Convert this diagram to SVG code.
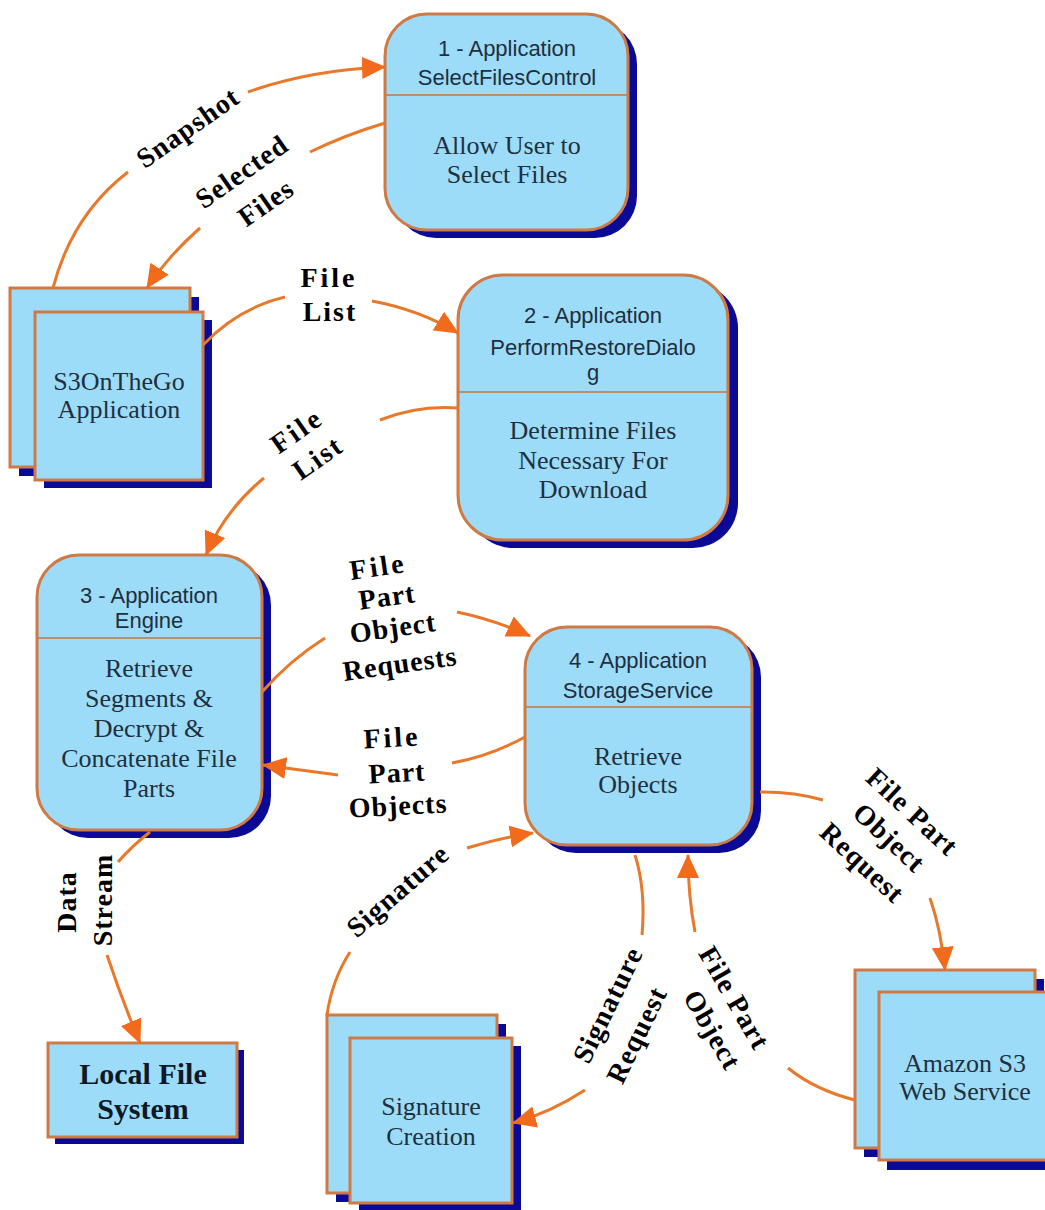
<svg xmlns="http://www.w3.org/2000/svg" width="1045" height="1210" viewBox="0 0 1045 1210">
  <style>
    .shadow { fill: #0A0A96; }
    .box { fill: #9DDCF8; stroke: #CF7A44; stroke-width: 3; }
    .divider { stroke: #C8743F; stroke-width: 1.5; }
    .head { font-family: "Liberation Sans", Arial, sans-serif; font-size: 22px; fill: #1E2F40; text-anchor: middle; }
    .body { font-family: "Liberation Serif", "Times New Roman", serif; font-size: 26px; fill: #1E3040; text-anchor: middle; }
    .store { font-family: "Liberation Serif", "Times New Roman", serif; font-size: 30px; font-weight: bold; fill: #101828; text-anchor: middle; }
    .flow { fill: none; stroke: #E8782A; stroke-width: 3; }
    .lbl { font-family: "Liberation Serif", "Times New Roman", serif; font-size: 28px; font-weight: bold; fill: #000; text-anchor: middle; letter-spacing: 1px; }
  </style>
  <defs>
    <marker id="arrow" markerUnits="userSpaceOnUse" markerWidth="24" markerHeight="22" viewBox="0 0 24 22" refX="23" refY="11" orient="auto">
      <path d="M0,0 L24,11 L0,22 Z" fill="#F26B1D"/>
    </marker>
  </defs>
  <rect width="1045" height="1210" fill="#FFFFFF"/>

  <!-- Process 1 -->
  <g id="node-select-files">
    <rect class="shadow" x="394" y="22" width="243" height="216" rx="42"/>
    <rect class="box" x="385" y="14" width="243" height="216" rx="42"/>
    <line class="divider" x1="386" y1="95" x2="627" y2="95"/>
    <text class="head" x="507" y="56">1 - Application</text>
    <text class="head" x="507" y="85">SelectFilesControl</text>
    <text class="body" x="507" y="154">Allow User to</text>
    <text class="body" x="507" y="183">Select Files</text>
  </g>

  <!-- Process 2 -->
  <g id="node-restore-dialog">
    <rect class="shadow" x="468" y="283" width="270" height="265" rx="45"/>
    <rect class="box" x="458" y="275" width="270" height="265" rx="45"/>
    <line class="divider" x1="459" y1="392" x2="727" y2="392"/>
    <text class="head" x="593" y="323">2 - Application</text>
    <text class="head" x="593" y="355">PerformRestoreDialo</text>
    <text class="head" x="593" y="380">g</text>
    <text class="body" x="593" y="439">Determine Files</text>
    <text class="body" x="593" y="469">Necessary For</text>
    <text class="body" x="593" y="498">Download</text>
  </g>

  <!-- Process 3 -->
  <g id="node-engine">
    <rect class="shadow" x="46" y="563" width="225" height="275" rx="42"/>
    <rect class="box" x="37" y="555" width="225" height="275" rx="42"/>
    <line class="divider" x1="38" y1="638" x2="261" y2="638"/>
    <text class="head" x="149" y="603">3 - Application</text>
    <text class="head" x="149" y="628">Engine</text>
    <text class="body" x="149" y="677">Retrieve</text>
    <text class="body" x="149" y="707">Segments &amp;</text>
    <text class="body" x="149" y="737">Decrypt &amp;</text>
    <text class="body" x="149" y="767">Concatenate File</text>
    <text class="body" x="149" y="797">Parts</text>
  </g>

  <!-- Process 4 -->
  <g id="node-storage-service">
    <rect class="shadow" x="534" y="635" width="227" height="218" rx="42"/>
    <rect class="box" x="525" y="627" width="227" height="218" rx="42"/>
    <line class="divider" x1="526" y1="707" x2="751" y2="707"/>
    <text class="head" x="638" y="668">4 - Application</text>
    <text class="head" x="638" y="698">StorageService</text>
    <text class="body" x="638" y="765">Retrieve</text>
    <text class="body" x="638" y="793">Objects</text>
  </g>

  <!-- External entity: application -->
  <g id="node-s3onthego">
    <rect class="shadow" x="19" y="297" width="180" height="179"/>
    <rect class="box" x="10" y="288" width="180" height="179"/>
    <rect class="shadow" x="44" y="320" width="168" height="168"/>
    <rect class="box" x="35" y="312" width="168" height="168"/>
    <text class="body" x="119" y="390">S3OnTheGo</text>
    <text class="body" x="119" y="418">Application</text>
  </g>

  <!-- Data store -->
  <g id="node-local-file-system">
    <rect class="shadow" x="55" y="1050" width="189" height="94"/>
    <rect class="box" x="48" y="1043" width="189" height="94"/>
    <text class="store" x="143" y="1084">Local File</text>
    <text class="store" x="143" y="1119">System</text>
  </g>

  <!-- External entity: signature creation -->
  <g id="node-signature-creation">
    <rect class="shadow" x="336" y="1024" width="170" height="178"/>
    <rect class="box" x="327" y="1015" width="170" height="178"/>
    <rect class="shadow" x="359" y="1046" width="162" height="164"/>
    <rect class="box" x="350" y="1038" width="162" height="165"/>
    <text class="body" x="431" y="1115">Signature</text>
    <text class="body" x="431" y="1145">Creation</text>
  </g>

  <!-- External entity: Amazon S3 -->
  <g id="node-amazon-s3">
    <rect class="shadow" x="864" y="979" width="180" height="178"/>
    <rect class="box" x="855" y="970" width="180" height="178"/>
    <rect class="shadow" x="887" y="1001" width="170" height="169"/>
    <rect class="box" x="879" y="992" width="172" height="168"/>
    <text class="body" x="965" y="1072">Amazon S3</text>
    <text class="body" x="965" y="1100">Web Service</text>
  </g>

  <!-- Data flows -->
  <g id="connectors">
    <!-- Snapshot -->
    <path class="flow" d="M53,288 Q72,215 128,172"/>
    <path class="flow" d="M248,92 Q310,70 385,67" marker-end="url(#arrow)"/>
    <!-- Selected Files -->
    <path class="flow" d="M385,123 Q345,135 310,152"/>
    <path class="flow" d="M200,228 Q168,256 147,288" marker-end="url(#arrow)"/>
    <!-- File List (to dialog) -->
    <path class="flow" d="M203,345 Q238,308 285,297"/>
    <path class="flow" d="M372,301 Q420,310 458,333" marker-end="url(#arrow)"/>
    <!-- File List (to engine) -->
    <path class="flow" d="M458,408 Q418,405 380,420"/>
    <path class="flow" d="M264,478 Q225,510 206,555" marker-end="url(#arrow)"/>
    <!-- File Part Object Requests -->
    <path class="flow" d="M262,692 Q290,660 325,638"/>
    <path class="flow" d="M457,612 Q495,620 530,636" marker-end="url(#arrow)"/>
    <!-- File Part Objects -->
    <path class="flow" d="M525,737 Q490,756 452,763"/>
    <path class="flow" d="M338,775 Q300,770 263,765" marker-end="url(#arrow)"/>
    <!-- Data Stream -->
    <path class="flow" d="M150,832 Q133,845 118,862"/>
    <path class="flow" d="M107,955 Q122,1000 140,1043" marker-end="url(#arrow)"/>
    <!-- Signature -->
    <path class="flow" d="M327,1015 Q332,980 350,952"/>
    <path class="flow" d="M467,848 Q500,838 533,833" marker-end="url(#arrow)"/>
    <!-- Signature Request -->
    <path class="flow" d="M635,855 Q646,890 642,935"/>
    <path class="flow" d="M585,1090 Q550,1113 513,1123" marker-end="url(#arrow)"/>
    <!-- File Part Object (response) -->
    <path class="flow" d="M855,1100 Q815,1090 788,1068"/>
    <path class="flow" d="M695,932 Q688,895 688,855" marker-end="url(#arrow)"/>
    <!-- File Part Object Request -->
    <path class="flow" d="M760,792 Q795,792 823,800"/>
    <path class="flow" d="M930,898 Q941,930 945,970" marker-end="url(#arrow)"/>
  </g>

  <!-- Flow labels -->
  <g id="labels">
    <text class="lbl" transform="translate(188,128) rotate(-35)" y="9">Snapshot</text>
    <text class="lbl" transform="translate(242,172) rotate(-35)" y="9">Selected</text>
    <text class="lbl" transform="translate(266,203) rotate(-35)" y="9">Files</text>
    <text class="lbl" x="329" y="287" style="letter-spacing:3px">File</text>
    <text class="lbl" x="330" y="321" style="letter-spacing:2px">List</text>
    <text class="lbl" transform="translate(297,431) rotate(-35)" y="9" style="letter-spacing:3px">File</text>
    <text class="lbl" transform="translate(318,458) rotate(-35)" y="9" style="letter-spacing:2px">List</text>
    <text class="lbl" transform="translate(378,567) rotate(-8)" y="9" style="letter-spacing:3px">File</text>
    <text class="lbl" transform="translate(387,597) rotate(-8)" y="9">Part</text>
    <text class="lbl" transform="translate(393,628) rotate(-8)" y="9">Object</text>
    <text class="lbl" transform="translate(400,664) rotate(-8)" y="9">Requests</text>
    <text class="lbl" transform="translate(392,738) rotate(-3)" y="9" style="letter-spacing:3px">File</text>
    <text class="lbl" transform="translate(397,773) rotate(-3)" y="9">Part</text>
    <text class="lbl" transform="translate(398,806) rotate(-3)" y="9">Objects</text>
    <text class="lbl" transform="translate(67,902) rotate(-90)" y="9">Data</text>
    <text class="lbl" transform="translate(103,900) rotate(-90)" y="9">Stream</text>
    <text class="lbl" transform="translate(398,891) rotate(-41)" y="9">Signature</text>
    <text class="lbl" transform="translate(608,1005) rotate(-64)" y="9">Signature</text>
    <text class="lbl" transform="translate(637,1035) rotate(-64)" y="9">Request</text>
    <text class="lbl" transform="translate(734,998) rotate(60)" y="9">File Part</text>
    <text class="lbl" transform="translate(712,1030) rotate(60)" y="9">Object</text>
    <text class="lbl" transform="translate(912,812) rotate(43)" y="9">File Part</text>
    <text class="lbl" transform="translate(889,838) rotate(43)" y="9">Object</text>
    <text class="lbl" transform="translate(862,863) rotate(43)" y="9">Request</text>
  </g>
</svg>
